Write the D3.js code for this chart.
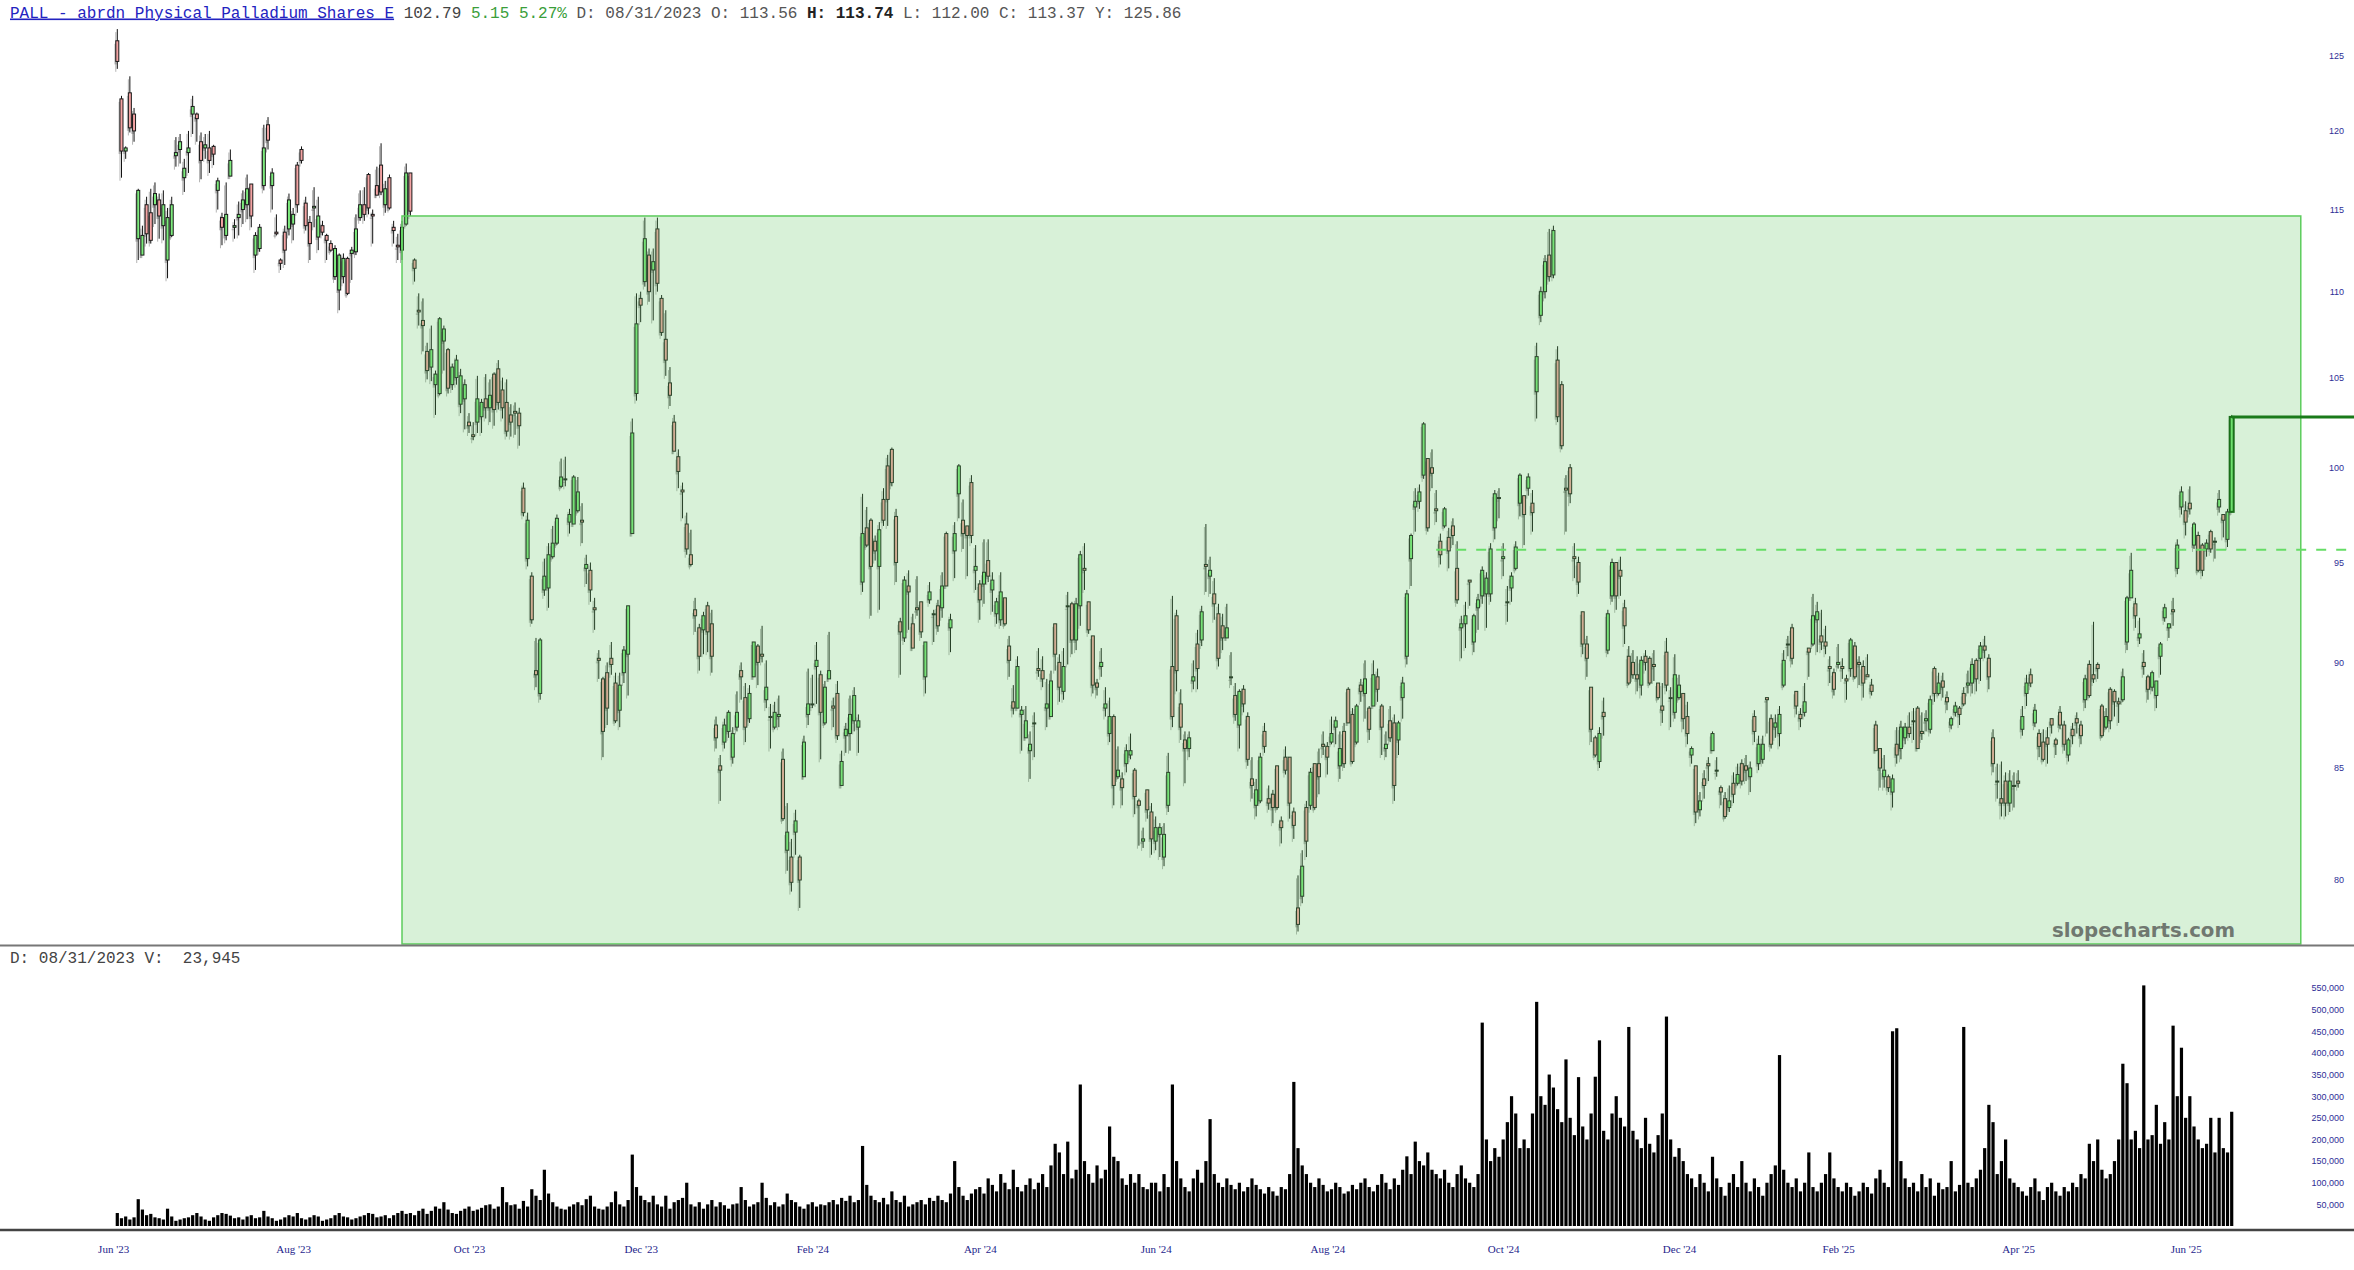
<!DOCTYPE html>
<html><head><meta charset="utf-8">
<script src="https://cdn.jsdelivr.net/npm/d3@7"></script>
<style>html,body{margin:0;padding:0;background:#fff;}svg{display:block}</style>
</head><body><svg id="c" width="2354" height="1270"></svg>
<script>
const opens=[
126.0,122.1,118.7,122.5,121.1,113.2,112.2,115.3,114.8,115.3,
115.6,114.0,111.9,113.4,118.4,118.8,117.0,118.6,121.1,121.1,
119.3,118.9,118.9,119.0,116.2,114.5,113.4,117.1,113.9,114.5,
115.0,115.3,116.6,112.2,112.6,116.5,120.4,116.5,113.6,111.9,
113.6,113.8,114.1,117.8,118.8,115.4,114.2,115.1,113.3,114.0,
113.4,112.9,110.9,110.1,110.9,112.0,112.3,112.4,114.5,115.3,
117.2,114.7,116.5,117.8,115.3,117.0,113.9,112.8,112.5,114.1,
117.3,111.9,108.9,108.3,106.5,105.6,104.6,104.1,107.1,106.6,
104.6,105.0,103.5,103.8,102.5,101.8,102.5,102.8,103.8,103.3,
105.2,105.5,104.3,103.6,102.9,103.1,103.0,98.9,95.2,94.3,
89.6,88.5,93.6,93.7,95.3,96.0,99.0,99.4,97.1,97.0,
97.7,97.2,94.7,94.6,92.7,90.2,89.2,89.5,90.2,89.0,
87.7,89.5,90.4,96.5,104.1,109.6,110.6,112.2,111.3,113.8,
109.6,107.2,104.7,102.5,100.6,98.8,97.0,95.4,92.6,91.7,
91.6,92.8,91.9,87.0,85.1,86.2,86.7,85.5,86.9,89.6,
88.3,87.3,89.3,90.8,90.4,88.2,87.4,86.9,87.4,85.4,
81.3,81.0,82.1,81.0,84.6,87.5,88.0,89.8,89.4,87.1,
89.2,87.9,88.5,84.2,86.5,86.6,87.2,86.9,94.0,96.8,
97.2,96.1,94.8,98.3,100.1,101.0,97.4,92.0,91.2,93.8,
91.9,92.7,93.0,89.3,93.1,92.4,92.8,92.7,96.5,91.7,
95.6,98.6,97.2,96.9,99.2,94.6,93.9,93.9,95.1,93.6,
92.4,92.1,93.2,90.8,88.1,87.8,87.5,86.4,85.8,87.1,
89.7,89.6,87.8,87.4,91.9,90.0,88.6,92.8,92.9,91.1,
92.8,94.7,93.0,91.3,89.0,89.8,87.8,86.6,87.4,84.6,
84.5,85.2,85.6,84.9,83.5,81.7,84.0,83.0,81.7,82.0,
81.0,83.3,89.8,92.3,88.0,86.3,85.9,89.1,90.9,91.1,
94.9,94.3,93.4,92.4,91.8,91.2,89.3,88.4,87.0,88.7,
87.4,84.5,83.3,83.5,86.7,83.6,83.8,85.1,82.6,85.5,
85.5,83.0,78.8,79.3,83.2,83.3,85.2,85.2,86.1,86.0,
86.2,86.9,85.1,86.7,88.7,87.5,86.2,88.9,88.5,87.8,
87.9,89.3,87.9,85.9,87.2,87.1,86.3,88.3,90.3,95.2,
97.9,98.2,99.6,100.5,100.0,97.8,96.1,96.9,96.3,96.9,
94.7,91.7,91.9,94.1,91.0,92.7,93.3,93.4,93.4,96.8,
98.4,95.2,93.0,93.7,94.7,98.1,98.5,98.9,98.1,104.2,
108.6,110.0,112.2,111.0,106.0,104.6,98.9,100.0,95.3,95.0,
92.5,90.9,88.8,86.4,85.3,87.6,90.6,93.3,95.0,94.6,
92.7,90.3,90.0,89.4,88.9,90.3,90.2,89.9,89.0,87.9,
90.5,88.3,87.6,88.3,88.5,87.4,85.6,85.1,83.1,84.5,
85.2,85.8,84.9,84.1,83.6,83.2,84.3,84.3,85.2,85.1,
84.6,87.4,85.2,85.4,88.3,87.3,86.9,86.6,88.9,90.9,
91.7,88.6,87.5,87.6,90.7,90.9,92.1,91.3,91.0,89.8,
89.5,89.9,89.8,89.2,89.7,90.8,90.0,89.8,89.4,88.9,
87.0,85.9,84.6,84.6,83.9,86.1,85.9,86.4,86.9,87.2,
87.8,86.7,87.2,86.8,89.7,88.5,89.1,88.3,87.0,87.6,
87.8,88.5,88.9,89.0,90.1,90.2,90.8,90.2,86.4,84.4,
83.6,84.4,83.4,84.2,84.4,86.8,88.5,89.4,87.1,86.6,
86.2,86.4,87.3,86.3,87.6,87.0,85.6,86.8,87.3,87.0,
88.2,89.9,89.4,89.9,87.9,86.9,88.7,88.6,88.1,88.2,
91.0,93.2,92.9,91.2,90.0,89.3,88.8,88.4,90.3,92.2,
91.7,92.6,94.7,97.9,97.7,98.1,95.9,96.4,95.9,95.7,
96.6,96.1,97.9,97.5,96.2,97.64];
const highs=[
126.8,122.3,119.0,123.6,121.5,116.3,114.0,115.8,116.3,116.7,
116.0,116.2,115.1,115.8,119.6,119.8,118.2,120.0,122.3,121.2,
119.9,119.8,120.0,119.1,117.0,114.8,116.7,118.8,114.4,115.5,
116.2,117.2,116.6,113.6,114.1,120.4,120.9,117.6,114.7,112.0,
114.0,116.0,115.1,118.0,119.0,115.8,114.6,116.4,115.8,114.3,
113.5,113.1,112.8,112.3,112.3,112.1,112.7,114.7,116.2,116.4,
117.3,115.0,117.7,119.2,116.8,117.2,114.3,113.5,114.3,117.9,
117.3,112.0,109.9,109.6,107.0,108.0,105.4,108.5,108.0,106.7,
105.8,106.3,105.5,104.9,103.0,102.5,105.1,103.8,105.2,104.9,
105.3,106.0,105.0,104.9,103.5,103.6,103.3,99.2,97.6,94.5,
91.2,91.2,95.2,96.0,96.9,97.5,100.5,100.6,97.8,99.6,
99.5,98.1,95.4,95.0,93.2,90.6,89.3,90.0,91.0,89.5,
89.5,90.8,92.8,102.7,109.9,110.0,114.5,112.6,112.6,114.5,
109.8,108.9,105.6,102.9,101.0,99.2,97.6,96.7,93.2,91.9,
92.5,93.0,92.6,87.4,85.6,87.3,87.7,86.9,88.6,90.0,
89.0,88.9,91.0,90.9,91.8,90.1,88.0,88.1,88.4,85.9,
83.4,81.8,83.1,81.1,86.5,89.7,89.4,91.0,89.6,89.1,
91.5,88.3,89.1,85.8,87.1,88.4,88.8,87.5,98.6,97.9,
97.3,96.4,97.1,98.9,100.7,101.1,97.8,92.2,94.3,94.6,
92.4,94.3,93.0,91.0,94.0,92.6,93.1,94.5,96.6,92.4,
97.1,100.2,98.3,96.9,99.6,95.9,94.1,96.2,96.2,94.5,
93.2,94.5,93.2,91.3,88.9,90.3,87.9,87.9,86.7,87.6,
90.7,90.3,89.2,89.6,91.9,90.4,90.7,93.5,93.0,93.2,
95.6,96.0,93.0,91.3,89.2,90.7,88.8,88.3,87.5,86.0,
84.8,86.1,86.6,85.0,83.6,82.3,84.0,83.4,82.8,82.5,
82.5,85.7,93.3,92.6,88.7,86.7,86.7,90.1,91.6,92.8,
97.0,95.3,94.2,92.9,92.4,92.9,90.5,89.0,88.7,88.9,
87.6,85.5,84.5,85.7,87.1,84.2,84.0,85.1,82.8,86.0,
85.5,83.2,80.2,81.3,83.5,85.0,85.2,85.9,86.7,86.2,
87.4,87.4,86.7,87.1,88.8,87.8,88.0,89.2,90.1,87.9,
90.1,89.7,88.0,86.7,87.9,87.5,87.2,89.3,93.6,96.5,
98.9,99.1,102.5,100.5,101.0,98.8,96.5,97.9,96.8,97.3,
96.1,92.3,93.0,94.1,92.4,93.4,94.8,94.5,96.0,98.8,
98.9,96.0,93.8,94.5,96.1,99.7,98.5,99.7,98.8,107.0,
110.3,112.2,113.8,114.0,106.8,104.8,99.6,100.2,96.0,95.3,
92.5,91.3,88.8,86.5,86.9,88.3,92.6,95.2,95.0,95.3,
93.1,90.8,90.6,90.3,90.3,90.6,90.3,90.6,89.0,89.0,
91.2,88.8,90.4,89.4,88.5,88.1,86.0,85.1,83.9,84.9,
85.5,86.7,85.5,84.2,83.9,84.2,84.8,85.2,85.4,85.6,
85.3,87.7,86.5,86.5,88.3,87.5,87.5,87.9,90.6,91.3,
91.9,88.6,87.8,89.0,90.7,93.4,93.0,92.6,91.8,90.3,
89.7,90.9,90.2,89.4,91.2,91.0,90.3,90.1,90.4,89.2,
87.2,85.9,85.6,84.7,84.7,86.9,87.2,87.1,87.6,87.8,
87.9,87.6,87.7,88.4,89.8,89.5,89.5,88.6,87.4,88.1,
87.9,88.8,89.6,90.2,90.2,91.0,91.3,90.4,86.8,85.2,
85.3,84.8,84.9,84.8,84.9,87.9,89.4,89.7,88.0,86.8,
86.8,86.9,87.3,86.4,87.9,87.2,86.4,87.1,87.6,87.2,
89.4,90.1,92.0,90.0,88.0,87.8,88.8,88.7,88.3,89.7,
93.3,95.5,93.2,92.2,90.6,89.4,89.6,89.1,91.0,92.9,
91.9,93.2,96.2,99.0,98.2,99.0,97.1,96.6,96.0,96.2,
96.7,96.3,98.8,97.5,97.8,102.9];
const lows=[
124.1,117.0,118.2,119.9,119.3,111.9,112.2,112.9,112.9,114.1,
113.2,113.1,110.8,113.3,117.7,117.9,116.1,117.3,119.8,119.3,
116.9,118.2,117.3,117.8,115.0,112.8,113.1,117.1,113.2,113.4,
114.1,114.4,113.9,111.3,112.4,116.2,118.8,115.0,113.4,111.3,
111.6,113.4,113.1,114.8,117.9,113.7,111.9,113.9,112.5,113.4,
111.9,112.4,110.7,108.9,110.5,109.8,110.7,112.2,114.3,114.3,
114.7,112.9,115.9,115.9,114.8,115.0,112.9,111.9,111.9,114.0,
114.6,110.6,108.0,106.5,104.9,104.8,102.9,104.0,105.4,104.1,
104.3,104.6,103.0,102.1,101.9,101.5,101.9,101.9,102.7,102.5,
102.3,103.2,102.7,101.7,101.7,101.8,101.2,97.4,94.8,91.9,
88.8,88.2,93.3,92.7,95.2,95.9,98.9,99.0,96.5,97.0,
97.6,96.0,93.9,93.0,91.6,89.2,85.5,87.0,89.4,87.1,
86.9,89.0,88.4,96.5,103.7,108.2,110.3,109.4,108.3,110.0,
107.4,105.1,103.4,100.9,98.9,97.3,95.4,94.8,91.5,89.6,
90.4,90.5,89.5,85.9,83.5,85.9,86.4,85.2,86.7,88.2,
86.2,87.1,89.3,88.9,90.0,87.8,85.9,86.8,86.9,82.6,
80.4,79.5,81.1,78.8,84.6,87.0,87.8,88.0,85.4,87.0,
89.2,86.9,86.3,84.2,85.7,85.8,86.7,85.7,93.5,95.8,
92.3,95.1,92.6,96.9,96.9,99.0,94.0,89.4,91.0,91.6,
90.7,92.3,91.2,88.5,92.9,91.0,91.5,92.2,93.8,90.5,
94.2,97.3,95.7,94.3,96.0,93.6,92.1,92.9,94.0,92.5,
91.9,91.8,91.8,89.3,87.5,87.8,85.8,86.4,84.5,85.5,
89.3,88.8,86.9,87.4,89.6,88.1,88.2,89.9,90.4,90.6,
91.8,93.6,91.4,88.5,88.4,89.3,87.4,86.2,83.3,84.5,
83.3,84.8,85.4,82.9,81.5,81.4,82.7,81.1,81.3,81.0,
80.6,83.0,86.9,88.6,86.3,84.3,85.5,88.7,88.7,90.8,
93.5,93.4,92.1,89.8,90.6,91.2,88.9,87.2,85.9,87.6,
85.1,83.6,82.8,83.4,85.7,83.1,82.5,83.1,81.6,84.7,
82.7,81.8,77.8,79.0,81.0,83.1,83.1,83.8,85.6,84.7,
86.1,86.1,84.5,85.0,87.1,85.2,86.1,88.1,87.3,86.3,
87.9,88.1,85.6,85.5,86.2,83.5,85.6,87.3,89.9,93.8,
96.6,97.8,99.4,96.6,98.9,97.1,94.9,96.8,94.7,95.9,
92.9,90.2,90.7,92.8,90.5,91.6,92.9,91.7,93.0,96.2,
97.3,94.3,92.0,93.0,94.6,97.4,95.9,98.5,96.6,102.7,
108.2,109.6,110.6,110.8,102.5,101.0,96.6,98.1,94.2,93.4,
90.4,89.3,86.2,85.5,85.0,86.5,90.4,93.0,92.6,93.3,
90.9,88.9,89.2,88.6,88.4,89.6,88.9,89.1,88.2,87.1,
88.6,86.9,87.3,88.2,86.8,86.1,85.2,82.5,82.8,83.6,
84.4,85.8,84.6,83.3,82.7,83.0,83.4,84.2,84.2,84.4,
83.9,86.2,84.9,85.2,86.6,85.9,86.4,86.0,88.8,90.3,
89.9,87.5,86.9,87.4,89.3,90.8,90.5,90.6,90.4,89.0,
88.4,89.7,89.2,88.2,89.3,89.2,88.9,88.3,89.3,88.4,
85.8,84.1,84.1,83.9,83.2,85.2,85.4,86.1,86.4,86.3,
85.9,86.3,86.7,86.6,88.1,88.4,88.3,87.7,86.8,87.4,
87.0,87.9,88.5,88.5,88.6,89.1,90.2,88.7,84.8,83.6,
82.8,82.8,83.0,83.2,84.1,86.5,87.9,88.8,86.9,85.5,
85.3,85.2,86.6,85.6,86.8,85.8,85.3,86.1,86.6,86.1,
87.8,88.3,89.0,89.2,86.4,86.8,86.8,87.4,87.1,88.1,
90.6,93.2,91.7,90.9,89.4,88.2,88.6,87.8,89.4,92.0,
91.2,91.8,94.4,97.5,96.4,97.5,95.7,94.5,94.3,95.3,
95.5,95.2,97.6,96.3,95.8,97.6];
const closes=[
124.6,118.7,118.9,120.2,120.0,116.2,113.4,113.5,113.1,116.0,
114.6,115.3,114.5,115.3,118.6,119.3,117.6,118.9,121.6,120.8,
118.1,119.1,118.1,118.5,116.8,113.9,114.7,118.1,114.0,114.7,
115.6,116.3,114.6,113.4,113.9,118.9,119.4,117.3,113.5,111.7,
112.5,115.6,114.7,115.3,118.1,114.0,112.9,115.2,114.6,113.6,
113.1,112.5,112.6,112.2,112.0,109.9,112.5,113.8,115.3,114.7,
115.1,114.6,115.9,116.1,116.3,115.1,113.7,112.7,113.9,117.3,
114.9,111.4,108.8,108.0,105.4,106.6,105.2,108.4,107.8,104.4,
105.6,106.0,105.1,104.6,102.3,101.7,103.8,103.6,103.3,104.0,
103.2,103.6,103.3,102.0,102.5,103.0,102.3,97.6,97.2,92.1,
89.4,91.1,94.3,95.4,96.0,97.3,99.5,99.4,97.5,99.5,
98.7,97.1,94.9,93.6,92.6,90.1,86.7,87.8,89.9,87.2,
88.9,90.6,92.8,101.9,108.1,109.2,113.2,110.0,111.8,110.5,
107.6,106.0,104.0,100.9,99.8,98.7,95.7,94.9,92.3,90.3,
92.3,91.5,90.3,86.4,84.9,87.0,87.6,86.6,87.6,89.3,
86.9,88.5,91.0,90.0,90.3,88.8,87.4,87.6,87.5,82.7,
82.1,79.9,82.6,80.0,86.2,88.0,88.0,90.1,87.6,88.8,
89.6,87.8,86.5,85.3,86.8,87.5,88.4,87.2,96.5,95.9,
94.8,95.6,96.7,97.2,98.3,99.2,95.0,91.5,94.1,93.5,
90.7,92.6,91.5,91.0,93.5,92.4,91.8,93.8,93.8,92.1,
96.5,100.1,96.5,96.4,96.4,94.8,93.1,94.5,94.3,94.1,
93.0,93.5,91.9,90.1,87.8,89.8,87.7,87.2,86.1,87.1,
89.6,89.2,88.0,89.1,90.4,88.8,89.8,92.8,91.1,92.9,
95.4,94.6,91.6,88.9,88.8,90.0,88.0,87.4,84.2,84.9,
84.1,85.8,85.8,83.7,83.3,81.8,83.1,81.8,82.3,82.3,
82.0,84.8,87.4,89.6,86.9,85.9,86.4,89.3,89.7,92.5,
94.8,94.6,92.9,90.2,91.2,91.7,89.3,87.5,88.6,88.0,
85.4,84.2,84.0,85.5,86.0,83.4,83.2,83.2,82.3,84.9,
83.4,82.4,78.1,80.6,81.7,84.8,83.2,84.6,86.0,85.5,
86.6,87.2,85.9,85.2,87.1,85.3,87.9,88.6,89.2,86.8,
89.4,88.7,86.9,86.1,86.4,84.2,87.1,89.0,93.4,96.4,
98.2,98.7,102.4,96.8,99.7,97.7,95.4,97.8,95.6,96.4,
93.1,91.9,92.3,94.0,92.3,93.1,94.6,94.2,95.7,98.6,
98.4,95.3,93.0,94.3,95.8,99.6,97.5,99.5,97.6,106.2,
110.0,111.8,110.9,113.7,102.8,101.2,98.8,98.6,95.2,94.0,
90.9,90.2,86.8,85.6,86.6,87.4,92.4,95.0,93.3,94.3,
91.8,89.0,89.4,89.2,90.1,90.0,89.0,89.8,88.3,87.7,
88.9,88.3,89.4,88.9,87.3,86.6,85.9,83.0,83.5,84.2,
85.1,86.6,84.9,83.9,82.8,83.5,83.8,84.7,84.4,84.9,
85.0,86.7,86.1,86.1,88.2,86.1,87.1,87.5,90.1,90.9,
90.2,87.9,87.3,88.1,90.5,92.3,92.5,91.0,90.8,89.7,
88.7,90.0,89.7,89.1,91.1,89.3,89.9,89.0,89.3,88.6,
85.8,85.0,84.9,84.1,84.5,85.6,86.9,86.9,86.6,87.2,
85.9,86.6,87.3,88.2,88.5,89.0,88.8,88.1,87.3,87.9,
87.5,88.0,89.0,89.9,89.2,90.8,90.6,89.3,85.2,84.4,
83.4,83.4,84.4,84.2,84.3,87.4,89.0,89.0,87.7,86.0,
85.4,86.1,87.0,86.1,87.0,86.1,86.3,86.5,87.1,86.5,
89.2,88.4,89.2,89.7,86.5,87.4,87.2,88.1,88.0,89.3,
93.2,94.6,92.3,91.4,89.8,88.7,89.5,89.1,90.9,92.7,
91.9,92.5,95.9,98.7,97.1,97.8,97.0,94.6,94.6,96.0,
95.7,96.1,98.3,97.2,97.64,102.79];
// volume in thousands of shares
const volumesK=[
30,18,22,15,20,62,38,25,28,20,18,15,40,22,12,15,18,20,25,30,
22,15,12,20,25,30,28,24,18,20,15,22,25,18,20,35,22,18,12,15,
20,25,22,30,18,15,20,25,22,12,15,18,25,30,22,20,15,18,22,25,
30,28,20,22,25,18,25,30,35,28,
30,25,35,40,28,35,45,40,55,38,30,28,35,40,45,35,38,42,48,50,
40,45,90,55,48,50,40,58,45,85,70,60,130,75,55,45,40,38,45,50,
55,48,62,70,45,40,38,45,55,80,50,45,60,165,90,70,
60,55,70,50,45,70,40,55,60,65,100,50,45,55,40,50,60,45,55,48,
40,50,52,90,60,45,50,55,100,65,48,55,45,50,75,60,55,45,40,50,
55,45,50,48,55,60,50,65,58,70,55,60,185,95,70,60,55,65,50,80,
60,55,70,45,50,55,60,50,65,58,70,60,55,75,150,90,70,60,75,85,
90,75,110,95,80,120,100,85,130,90,80,95,110,85,100,120,90,140,190,170,
120,195,110,130,327,150,120,100,140,110,130,230,160,150,110,95,120,100,120,90,
85,100,100,80,120,90,327,150,110,90,
80,110,130,100,150,247,120,100,90,110,95,85,100,80,90,110,95,85,75,90,
80,70,90,85,120,333,180,140,120,100,90,110,95,80,85,100,90,75,80,95,
85,100,110,90,80,95,120,100,85,110,95,130,161,120,195,150,140,170,130,120,
110,130,100,90,120,140,110,100,90,120,470,200,150,180,160,200,240,300,260,180,
200,180,260,518,300,280,350,320,270,240,385,250,210,344,230,200,260,345,429,220,
200,260,300,250,230,460,220,200,180,250,190,170,210,260,484,200,160,180,150,120,
110,90,120,100,80,160,110,90,70,100,120,90,150,100,80,110,90,70,100,120,
140,395,130,100,90,110,80,100,170,90,80,100,120,170,110,90,80,100,90,70,
80,100,90,75,110,130,100,90,450,457,
150,110,90,100,80,120,90,110,70,100,85,90,150,80,95,460,100,90,110,130,
180,280,240,120,150,200,110,100,90,80,70,90,110,80,60,90,100,80,70,90,
80,100,90,120,110,190,150,200,130,110,120,150,200,375,330,200,220,180,556,200,
210,280,190,240,200,463,300,412,250,300,230,200,180,190,250,170,250,180,170,264];
const tickIdx=[-1,42,84,125,166,206,248,289,331,373,411,454,494];
const tickLabels=["Jun '23","Aug '23","Oct '23","Dec '23","Feb '24","Apr '24","Jun '24","Aug '24","Oct '24","Dec '24","Feb '25","Apr '25","Jun '25"];
const priceTicks=[80,85,90,95,100,105,110,115,120,125];
const volTicks=[50000,100000,150000,200000,250000,300000,350000,400000,450000,500000,550000];
const zoneStartIdx=68, zoneEndIdx=521.5, zoneTop=114.6;
const dashLevel=95.66, dashStartIdx=315;
const lastPrice=102.79;

const W=2354,H=1270;
const svg=d3.select('#c');
svg.append('rect').attr('width',W).attr('height',H).attr('fill','#fff');
const N=closes.length;
const x=d3.scaleLinear().domain([0,N-1]).range([117.3,2231.7]);
const y=d3.scaleLog().domain([80,125]).range([880,55.5]);
const yv=d3.scaleLinear().domain([0,550000]).range([1226,988]);
const idx=d3.range(N);
const bw=3;
const hi=i=>Math.max(highs[i],opens[i],closes[i]);
const lo=i=>Math.min(lows[i],opens[i],closes[i]);
const bt=i=>y(Math.max(opens[i],closes[i]));
const bb=i=>y(Math.min(opens[i],closes[i]));

// shadows
const gs=svg.append('g').attr('transform','translate(-1.5,3)');
gs.selectAll('line').data(idx).join('line')
  .attr('x1',i=>x(i)).attr('x2',i=>x(i))
  .attr('y1',i=>y(hi(i))).attr('y2',i=>y(lo(i)))
  .attr('stroke','rgba(40,40,40,0.35)').attr('stroke-width',1);
gs.selectAll('rect').data(idx).join('rect')
  .attr('x',i=>x(i)-bw/2).attr('width',bw)
  .attr('y',i=>bt(i)).attr('height',i=>Math.max(1,bb(i)-bt(i)))
  .attr('fill','rgba(40,40,40,0.25)');

// candles
const gc=svg.append('g');
gc.selectAll('line').data(idx.slice(0,N-1)).join('line')
  .attr('x1',i=>x(i)).attr('x2',i=>x(i))
  .attr('y1',i=>y(hi(i))).attr('y2',i=>y(lo(i)))
  .attr('stroke','#111').attr('stroke-width',1);
gc.selectAll('rect').data(idx.slice(0,N-1)).join('rect')
  .attr('x',i=>x(i)-bw/2).attr('width',bw)
  .attr('y',i=>bt(i)).attr('height',i=>Math.max(1,bb(i)-bt(i)))
  .attr('fill',i=>closes[i]>=opens[i]?'#7deb7d':'#f4a3a3')
  .attr('stroke','#1a1a1a').attr('stroke-width',1);

// zone overlay
svg.append('rect')
  .attr('x',x(zoneStartIdx)).attr('y',y(zoneTop))
  .attr('width',x(zoneEndIdx)-x(zoneStartIdx)).attr('height',944-y(zoneTop))
  .attr('fill','rgba(100,200,100,0.25)').attr('stroke','#5ccc5c').attr('stroke-width',1.5);

// dashed level
svg.append('line').attr('x1',x(dashStartIdx)).attr('x2',W)
  .attr('y1',y(dashLevel)).attr('y2',y(dashLevel))
  .attr('stroke','#66dd66').attr('stroke-width',2).attr('stroke-dasharray','10,10');

// last candle + last price line
const L=N-1;
svg.append('line').attr('x1',x(L)).attr('x2',x(L)).attr('y1',y(hi(L))).attr('y2',y(lo(L)))
  .attr('stroke','#1b6e1b').attr('stroke-width',1);
svg.append('rect').attr('x',x(L)-2).attr('width',4).attr('y',bt(L)).attr('height',bb(L)-bt(L))
  .attr('fill','#6ee06e').attr('stroke','#1b6e1b').attr('stroke-width',2);
svg.append('line').attr('x1',x(L)).attr('x2',W).attr('y1',y(lastPrice)).attr('y2',y(lastPrice))
  .attr('stroke','#1a7a1a').attr('stroke-width',3);

// watermark
svg.append('text').attr('x',2052).attr('y',937).text('slopecharts.com')
  .attr('font-family','DejaVu Sans, Verdana, sans-serif').attr('font-weight','bold')
  .attr('font-size',20).attr('fill','#707870').attr('textLength',183).attr('lengthAdjust','spacingAndGlyphs');

// price axis
const pa=svg.append('g').attr('transform','translate(2346,0)')
  .call(d3.axisLeft(y).tickValues(priceTicks).tickFormat(d3.format('d')).tickSize(0).tickPadding(2));
pa.select('.domain').remove();
pa.selectAll('text').attr('font-family','Liberation Sans, Arial, sans-serif').attr('font-size',9).attr('fill','#2e2e96');

// panel lines
svg.append('line').attr('x1',0).attr('x2',W).attr('y1',945.5).attr('y2',945.5).attr('stroke','#777').attr('stroke-width',2);
svg.append('line').attr('x1',0).attr('x2',W).attr('y1',1230).attr('y2',1230).attr('stroke','#444').attr('stroke-width',2.5);

// volume bars
svg.append('g').selectAll('rect').data(idx).join('rect')
  .attr('x',i=>x(i)-1.6).attr('width',3.2)
  .attr('y',i=>yv(volumesK[i]*1000)).attr('height',i=>yv(0)-yv(volumesK[i]*1000))
  .attr('fill','#000');

const va=svg.append('g').attr('transform','translate(2346,0)')
  .call(d3.axisLeft(yv).tickValues(volTicks).tickFormat(d3.format(',')).tickSize(0).tickPadding(2));
va.select('.domain').remove();
va.selectAll('text').attr('font-family','Liberation Sans, Arial, sans-serif').attr('font-size',9).attr('fill','#2e2e96');

// x axis
const xa=svg.append('g').attr('transform','translate(0,1245)')
  .call(d3.axisBottom(x).tickValues(tickIdx).tickFormat((d,i)=>tickLabels[i]).tickSize(0).tickPadding(0));
xa.select('.domain').remove();
xa.selectAll('text').attr('font-family','Liberation Serif, Times New Roman, serif').attr('font-size',11).attr('fill','#1e1e8c');

// header
const hd=svg.append('text').attr('x',10).attr('y',17.5).attr('font-family','Liberation Mono, Courier New, monospace')
  .attr('font-size',16).attr('xml:space','preserve').style('white-space','pre');
const parts=[
 ['PALL - abrdn Physical Palladium Shares E','#2323c0','normal',true],
 [' 102.79','#444','normal',false],
 [' 5.15 5.27%','#3a9e3a','normal',false],
 [' D: 08/31/2023 O: 113.56 ','#555','normal',false],
 ['H: 113.74','#222','bold',false],
 [' L: 112.00 C: 113.37 Y: 125.86','#555','normal',false]];
parts.forEach(p=>{const t=hd.append('tspan').text(p[0]).attr('fill',p[1]).attr('font-weight',p[2]);
  if(p[3]) t.attr('text-decoration','underline');});
svg.append('text').attr('x',10).attr('y',963).attr('font-family','Liberation Mono, Courier New, monospace')
  .attr('font-size',16).attr('fill','#444').attr('xml:space','preserve').style('white-space','pre')
  .text('D: 08/31/2023 V:  23,945');
</script></body></html>
